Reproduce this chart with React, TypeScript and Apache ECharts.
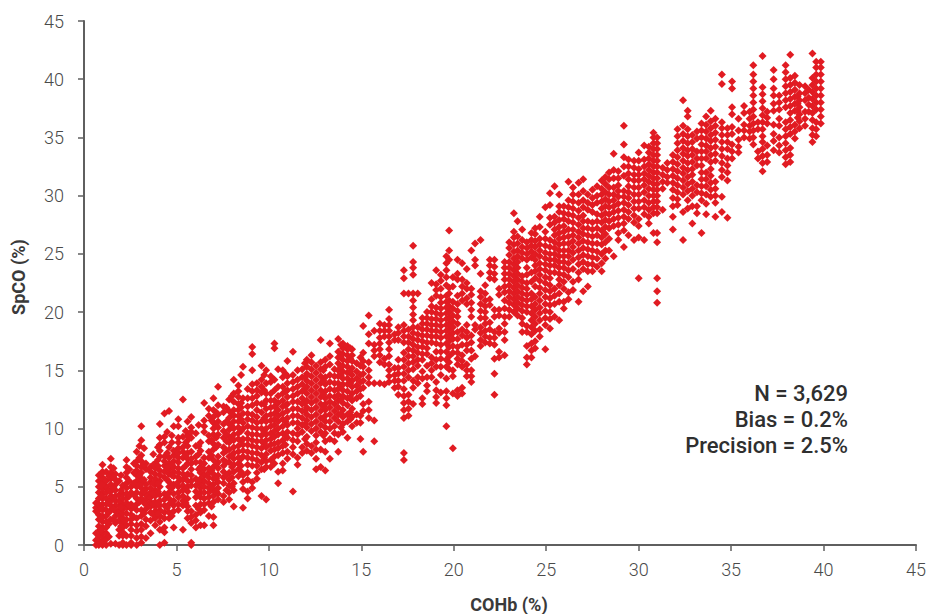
import React, { useEffect, useRef } from "react";
import * as echarts from "echarts";

const xTicks = [0, 5, 10, 15, 20, 25, 30, 35, 40, 45];
const annotation = ["N = 3,629", "Bias = 0.2%", "Precision = 2.5%"];

// Each row: x, then the y values read at that x.
const lowColumns: number[][] = [
  [0.65, 0, 0.4, 1, 2.9, 3.2, 3.6],
  [0.8, 0, 0.4, 0.8, 1.2, 1.6, 2.2, 2.6, 3, 3.5, 4, 4.5, 5, 5.5, 6],
  [1, 0, 0.3, 0.7, 1.1, 1.5, 2, 2.5, 3, 3.5, 4, 4.4, 4.8, 5.3, 5.8, 6.3, 6.9],
  [1.2, 0, 0.5, 1, 1.5, 2, 2.5, 3, 3.5, 4, 4.5, 5, 5.5, 6.3],
  [1.45, 0.1, 2.2, 3, 3.4, 3.8, 4.2, 4.6, 5.2, 5.7, 6.2, 6.7, 7.4],
  [1.7, 0.1, 1.9, 2.5, 2.9, 3.4, 3.8, 4.2, 4.7, 5.2, 5.6, 6.1],
  [1.9, 0, 0.8, 1.3, 2.1, 2.6, 3, 3.4, 3.8, 4.3, 5.5],
  [2.1, 0, 0.2, 0.8, 1.1, 1.5, 1.9, 2.3, 2.7, 3.1, 3.5, 4, 4.4, 5.1],
  [2.3, 0, 0.8, 1.7, 2.2, 2.7, 3.2, 3.6, 4, 4.4, 4.9, 5.3, 5.8, 6.2, 6.7, 7.3],
  [2.55, 0, 0.2, 0.8, 1.3, 1.8, 2.2, 2.6, 3.1, 3.5, 4.5, 5],
  [2.85, 0, 0.6, 1.2, 1.7, 2.3, 3, 3.5, 4, 4.5, 5, 5.5, 6, 6.4, 6.8, 7.2, 8],
  [3.1, 0.2, 0.7, 1.3, 1.8, 2.5, 3, 4, 4.4, 4.9, 5.3, 5.7, 6.2, 6.7, 7.2, 7.7, 9, 10.2],
  [3.35, 0.6, 1.6, 2.2, 3.1, 3.5, 3.9, 4.3, 4.8, 5.2, 6.5, 7],
  [3.6, 1, 2.1, 2.8, 3.3, 3.7, 4.1, 4.5, 4.9, 5.4, 5.8, 6.3, 6.7],
  [3.85, 1.7, 2.3, 2.9, 3.3, 3.7, 4.2, 4.7, 5.2, 5.7, 6.1, 6.6, 7],
  [4.1, 0, 1.3, 2, 2.5, 3, 3.4, 3.8, 4.3, 5, 5.5, 6, 6.4, 7.6, 8.1, 8.6, 9.2, 10.4],
  [4.35, 0.2, 1.1, 1.5, 2.3, 2.8, 3.4, 3.9, 4.4, 5.8, 6.3, 6.8, 7.2, 7.6, 8.8, 9.3, 11.3],
  [4.6, 2.3, 2.8, 3.5, 4, 4.5, 5, 5.4, 6.1, 6.5, 7, 7.5, 8.4, 11.5],
  [4.85, 1.5, 2.9, 3.4, 3.8, 4.4, 5.2, 5.9, 6.3, 6.7, 7.2, 7.7, 8.1, 10.2],
  [5.1, 3, 3.5, 4.1, 4.5, 5, 5.4, 5.8, 6.2, 6.6, 7.1, 7.5, 7.9, 8.3, 8.8, 9.2, 10.8, 10.2],
  [5.35, 1.3, 3.4, 3.8, 4.2, 4.7, 5.1, 5.6, 6.1, 6.6, 7.5, 8, 8.4, 9.3, 12.5],
  [5.6, 2.3, 2.9, 3.3, 4, 4.6, 5, 5.5, 6.1, 7, 7.4, 7.9, 8.5, 9, 9.4, 10.6],
  [5.8, 0, 0.2, 1.9, 2.4, 2.9, 5.1, 5.5, 6, 6.5, 7, 7.4, 8, 9.2, 9.7, 10.1, 11],
  [6.05, 1.5, 2.1, 2.6, 3.4, 4.1, 4.6, 5.1, 5.7, 7.1, 7.6, 8.5, 9.6],
  [6.3, 1.7, 2.8, 3.5, 4.1, 4.5, 4.9, 5.3, 5.7, 6.2, 6.7, 7.1, 8.1, 8.8],
  [6.5, 1.7, 3, 3.5, 4, 4.5, 5, 5.5, 6, 6.5, 7, 7.5, 9.7, 10.2, 10.7, 12.2],
  [6.75, 2.5, 3.6, 4.1, 4.5, 4.9, 5.3, 5.8, 6.2, 6.6, 7.5, 8, 8.9, 9.4, 11.1, 11.7],
  [7, 1.7, 2.4, 3.7, 4.2, 4.7, 5.2, 5.7, 6.1, 6.7, 7.3, 8.2, 8.7, 9.5, 10, 10.5, 11, 11.6, 12.6],
  [7.25, 3.9, 4.4, 4.9, 5.4, 6, 6.6, 7.1, 7.6, 8.6, 9.5, 10.1, 10.6, 11.2, 12, 13.6],
  [7.55, 3.7, 4.2, 5.3, 5.8, 6.3, 6.8, 7.3, 7.9, 8.4, 9.2, 9.8, 10.4, 11.4, 11.9],
  [7.85, 3.9, 4.5, 5.1, 5.6, 6.2, 7.1, 7.6, 8.2, 8.8, 9.3, 9.9, 10.4, 10.9, 11.5, 12.5],
  [8.1, 3.3, 4.7, 5.3, 6.3, 6.9, 7.4, 7.9, 8.4, 9, 9.5, 10, 10.6, 11.1, 11.6, 12.3, 13, 14.2],
  [8.35, 5.9, 6.5, 7, 7.5, 8, 8.5, 9.1, 9.6, 10.1, 10.6, 11.1, 11.6, 12.1, 12.7, 13.2, 13.7],
  [8.6, 3.2, 4.8, 5.4, 6, 7.6, 8.1, 8.6, 9.1, 10, 10.5, 11.3, 12.6, 15.3],
  [8.85, 4, 4.6, 5.6, 6.2, 6.9, 7.5, 8, 8.6, 9.1, 9.6, 10.2, 10.8, 11.3, 11.9, 12.6, 13.4],
  [9.1, 4.9, 5.4, 6.8, 7.4, 7.9, 8.5, 9, 9.5, 10.1, 10.7, 11.2, 12, 12.6, 13.2, 13.8, 15, 16.4, 17],
  [9.35, 5.7, 6.2, 6.8, 7.3, 7.9, 8.4, 8.9, 9.5, 10, 10.5, 11, 11.6, 12.2, 12.8, 13.3, 13.9],
  [9.6, 4.2, 6.5, 7.1, 7.7, 8.3, 8.9, 9.4, 10, 10.6, 11.4, 12.1, 13.1, 13.6, 14.2, 15.4],
  [9.85, 3.9, 6.7, 7.2, 7.8, 8.4, 9, 9.5, 10, 10.6, 11.1, 11.7, 12.4, 13, 13.9, 15],
  [10.1, 6.7, 7.3, 8.1, 8.6, 9.1, 9.6, 10.2, 10.7, 11.2, 11.8, 12.4, 13, 14, 14.5],
  [10.3, 7, 7.6, 8.2, 8.7, 9.3, 9.8, 10.3, 10.8, 11.3, 11.9, 12.4, 13.3, 14.2, 16.9, 17.3],
  [10.5, 5.3, 6.3, 7.7, 8.3, 8.8, 9.5, 10, 10.6, 11.1, 11.6, 12.2, 12.8, 13.6, 15.1],
  [10.75, 6.4, 7, 7.9, 8.5, 9, 9.6, 10.2, 10.8, 11.3, 11.9, 12.4, 13, 13.6, 14.4, 15],
  [11, 7.4, 8, 9.2, 9.7, 10.3, 10.9, 11.5, 12.1, 12.7, 13.3, 13.9, 14.5, 15.8],
  [11.3, 4.6, 7.8, 8.4, 9, 9.6, 10.5, 11.1, 11.7, 12.3, 12.8, 13.4, 14, 14.6, 16.6],
  [11.55, 6.9, 7.5, 8.9, 9.5, 10, 10.5, 11.1, 11.7, 12.3, 13, 13.6, 14.2, 15],
  [11.8, 7.9, 8.4, 9.7, 10.3, 10.9, 11.5, 12.1, 12.6, 13.2, 13.8, 14.4, 15.1],
  [12.05, 8.1, 8.7, 9.3, 10.1, 10.7, 11.2, 11.8, 12.4, 13, 13.6, 14.1, 14.7, 15.3, 15.9],
  [12.3, 7.9, 8.5, 9.8, 10.4, 11, 11.6, 12.2, 12.7, 13.3, 13.9, 14.5, 15.1, 15.7, 16.3],
  [12.55, 6.5, 7.4, 8.2, 8.8, 9.4, 10, 10.6, 11.2, 11.8, 12.4, 13, 13.6, 14.2, 14.8, 15.4],
  [12.8, 6.7, 8.2, 9.7, 10.3, 10.9, 11.5, 12.1, 12.7, 13.3, 13.9, 14.5, 15.1, 15.7, 17.6],
  [13.05, 6.4, 8, 8.9, 9.6, 10.1, 10.6, 11.1, 11.6, 12.1, 12.6, 13.2, 13.8, 14.4, 15.3, 15.9],
  [13.3, 7.4, 9.1, 10, 10.6, 11.2, 11.8, 12.3, 12.8, 13.4, 14, 14.6, 15.5, 16.2, 17.3],
  [13.55, 8.9, 9.6, 10.2, 10.9, 11.5, 12.1, 12.7, 13.3, 13.9, 14.5, 15.1],
  [13.75, 8, 9.5, 10.6, 11.2, 11.8, 12.4, 12.9, 13.4, 13.9, 14.5, 15, 15.6, 16.1, 16.6, 17.7],
  [14, 9.7, 10.4, 11, 11.6, 12.2, 12.8, 13.3, 13.8, 14.3, 14.9, 15.4, 15.9, 16.4, 16.9, 17.3],
  [14.25, 9.2, 10.6, 11.2, 12, 12.6, 13.2, 13.8, 14.3, 14.8, 15.3, 15.8, 16.3, 16.8, 17.1],
  [14.5, 10.2, 11, 11.7, 12.4, 13, 13.6, 14.1, 14.6, 15.2, 15.8, 16.3, 16.8],
  [14.75, 10.5, 11.2, 12.6, 13.2, 13.7, 14.3, 14.9, 15.6],
];

const lowInfill: number[][] = [
  [0.95, 1.3, 2.3, 3.2, 4.2, 5.1, 6.1],
  [1.35, 0.7, 1.8, 2.8, 3.7, 4.7, 5.9],
  [1.6, 2.2, 3.1, 4, 4.9, 5.8, 6.6],
  [2, 1.6, 3.2, 4.7, 6],
  [2.45, 3.4, 4.2, 5.5, 6.5],
  [2.7, 2.4, 3.3, 4.3, 5.3, 6.2, 7],
  [3, 3.7, 5.1, 6, 7.5, 8.5],
  [3.25, 2.7, 3.6, 4.6, 5.6, 6.9, 8.3],
  [3.75, 2.6, 3.5, 4.4, 5.3, 6.9, 7.8],
  [4, 2.7, 3.6, 4.6, 5.3, 6.8, 7.3, 8.4],
  [4.5, 3.2, 4.3, 5.6, 6.7, 7.9, 9.7],
  [4.75, 2.5, 3.7, 4.9, 6, 6.9, 8.8, 9.4],
  [5.5, 3.6, 4.8, 5.9, 6.8, 7.7, 8.8, 9.8],
  [6.2, 3.1, 4.3, 5.5, 6.5, 7.8, 8.5, 10.3],
  [6.9, 3.3, 5, 6.4, 7.7, 9, 10.7],
  [7.15, 4.6, 5.7, 6.9, 8.4, 9.2, 10.3, 11.4],
  [7.7, 4.7, 6, 7.1, 8.1, 8.9, 9.5, 10.6, 11.8],
  [8, 5, 5.8, 6.7, 7.7, 9.2, 10.2, 11.3, 12.8],
  [8.5, 6.3, 6.8, 7.4, 8.9, 9.8, 10.8, 11.8, 12.2, 14.6],
  [9.75, 6.5, 7.5, 8.7, 9.8, 10.9, 12.1, 13.3, 14.6],
  [10.9, 8.6, 9.4, 10.6, 12, 13.2, 14.7],
  [11.95, 9.1, 10.4, 11.5, 12.2, 13.4, 14.4, 15.6],
  [12.95, 9.4, 10.8, 11.9, 12.9, 14.1, 15],
  [13.9, 10.1, 11.3, 12.5, 13.6, 14.6, 15.3, 16.3, 17.2],
  [14.4, 10.8, 11.4, 12.7, 13.9, 14.9, 16, 16.9],
];

const midColumns: number[][] = [
  [14.95, 9.1, 10.5, 11.1, 12.8, 13.4, 14, 14.6, 15.4, 16.1],
  [15.1, 8, 11.5, 12.1, 13.5, 14.1, 14.7, 15.3, 15.8, 16.5, 18.8],
  [15.4, 10.9, 11.6, 12.3, 13.9, 14.4, 15, 15.7, 17.3, 18.1, 19.7],
  [15.7, 8.9, 10.7, 13.9, 16.2, 16.7, 17.2, 18.4],
  [16, 13.9, 15.7, 16.3, 16.8, 17.3, 17.8, 18.4, 19],
  [16.25, 13.8, 15.5, 16, 17.9, 18.4, 18.9],
  [16.5, 14, 14.5, 15, 15.5, 16.2, 16.8, 17.4, 17.9, 18.4, 18.9, 19.4, 20.2],
  [16.8, 13.5, 14.1, 14.6, 15.2, 17.6, 18.1],
  [17, 12.9, 13.6, 14.1, 14.7, 15.2, 15.9, 17.6, 18.2, 18.7],
  [17.3, 7.3, 7.9, 10.9, 11.6, 12.2, 12.8, 13.4, 14.1, 14.7, 15.3, 15.9, 16.5, 17.4, 17.9, 18.4, 18.9, 21.6, 22.9, 23.6],
  [17.55, 11.1, 11.7, 12.3, 12.9, 14.4, 15, 15.6, 16.2, 16.8, 17.4, 17.9, 18.5, 21.6],
  [17.8, 12.1, 13.5, 14.1, 15.1, 15.7, 16.2, 16.7, 17.2, 17.7, 18.2, 18.7, 19.3, 19.8, 20.4, 21, 21.6, 23.2, 23.8, 24.3, 25.7],
  [18.05, 13.9, 14.4, 15.4, 15.9, 16.5, 17, 17.6, 18.1, 18.7, 21.6],
  [18.3, 12.1, 12.6, 14.3, 14.9, 15.9, 16.4, 17, 17.5, 18, 18.5, 19, 19.5],
  [18.55, 13.2, 13.7, 14.4, 15.4, 16.4, 16.9, 17.4, 18, 18.5, 19, 19.5, 20],
  [18.8, 14.4, 15, 15.6, 16.1, 17.4, 17.9, 18.4, 18.9, 19.4, 20, 20.5, 21.1, 22.5],
  [19.05, 12.2, 12.7, 13.3, 14, 15.3, 15.9, 16.6, 17.3, 17.9, 18.4, 18.9, 19.4, 19.9, 20.4, 21.4, 21.9, 22.4, 23.6],
  [19.3, 13.1, 14.6, 15.3, 16, 16.6, 17.2, 17.8, 18.3, 18.8, 19.3, 19.8, 20.3, 20.8, 21.3, 22, 22.7, 23.2],
  [19.6, 10.2, 12, 12.6, 13.2, 14.3, 15.3, 15.9, 16.6, 17.3, 17.9, 18.4, 18.9, 19.4, 19.9, 20.4, 20.9, 21.4, 22.3, 23, 23.6, 24.2, 24.8],
  [19.75, 15.1, 15.7, 16.2, 17, 17.5, 18, 18.5, 19, 19.5, 20, 20.5, 21, 21.6, 22.1, 24.5, 25.3, 27],
  [19.95, 8.3, 13, 14.5, 15, 16.5, 17.1, 17.7, 18.2, 18.7, 19.2, 19.7, 20.3, 20.9, 22.2, 23],
  [20.2, 12.8, 13.3, 15.5, 16, 16.5, 17, 17.7, 18.3, 19, 19.6, 20.1, 20.7, 21.4, 22.8, 23.3, 24.5],
  [20.45, 13, 13.5, 15.3, 15.8, 16.3, 17.2, 18, 18.5, 21, 21.6, 22.2, 22.8, 24.2],
  [20.7, 14.5, 15, 15.5, 16.7, 17.2, 17.8, 18.3, 18.9, 20.7, 21.2, 22, 22.5, 23.7],
  [20.95, 14, 14.5, 15, 16, 16.7, 17.4, 18, 19.6, 20.2, 20.8, 21.5, 22, 25.3],
  [21.15, 16.2, 18.5, 18.9, 24, 24.5, 25.9],
  [21.45, 17.1, 17.6, 18.2, 18.7, 19.5, 20.1, 20.7, 21.3, 21.8, 23.3, 26.2],
  [21.7, 17.4, 17.9, 18.4, 19, 19.5, 20, 20.5, 21, 21.6, 22.3],
  [21.95, 17.3, 17.8, 18.5, 19.1, 20.6, 21.1, 22.9, 23.4, 24, 24.5],
  [22.2, 12.9, 14.7, 16, 17.2, 17.8, 18.3, 19.6, 20.2, 22.8, 23.3, 23.9, 24.5],
  [22.45, 16.1, 16.6, 18.2, 18.6, 19.7, 20.2, 21.5, 22],
  [22.75, 16.3, 17.6, 18.3, 19, 19.6, 20.3, 21, 21.7, 22.2, 22.8, 23.3, 23.8, 24.3],
  [23, 19.6, 20.2, 20.8, 21.3, 21.8, 22.3, 22.8, 23.3, 23.8, 24.3, 24.9, 25.5, 26],
  [23.25, 20, 20.6, 21.1, 21.6, 22.1, 22.6, 23.1, 23.6, 24.1, 24.6, 25.2, 25.8, 26.4, 26.9, 28.5],
  [23.45, 19.7, 20.3, 20.8, 21.3, 21.8, 22.3, 22.8, 23.3, 23.8, 24.3, 24.8, 25.3, 25.9, 26.5, 27.8],
  [23.7, 18.3, 19, 19.5, 20.1, 20.6, 21.1, 21.6, 22.1, 22.6, 23.1, 24.6, 25.1, 25.6, 26.2, 27.1],
  [23.95, 15.5, 16.1, 17.1, 18.3, 18.8, 20, 20.5, 21, 21.5, 22, 22.5, 23.2, 23.8, 24.5, 25, 25.5, 26],
  [24.2, 16.1, 16.7, 17.3, 18.1, 18.7, 19.3, 19.9, 20.5, 21.1, 21.6, 22.6, 23.4, 24.7, 25.2, 25.7, 26.2, 26.8],
  [24.4, 16.9, 17.5, 18.4, 19, 19.6, 20.2, 20.7, 21.3, 22.2, 22.9, 23.5, 24, 24.5, 25, 25.6, 26.1, 26.7, 27.2],
  [24.65, 17.9, 18.5, 19.3, 19.9, 20.4, 21, 21.6, 22.1, 22.7, 23.2, 23.7, 24.2, 24.8, 25.3, 25.8, 26.3, 27.3, 28.2],
  [24.95, 16.8, 18.9, 19.5, 20.1, 20.7, 21.3, 21.9, 22.5, 23, 23.6, 24.1, 24.6, 25.1, 25.7, 26.3, 26.9, 29],
  [25.2, 18.6, 19.4, 20, 20.6, 21.2, 21.8, 22.3, 22.9, 23.4, 24, 24.5, 25, 25.6, 26.2, 27.5, 28.1, 29.2, 30.2],
  [25.45, 19.6, 20.7, 21.4, 22, 23.4, 24, 24.5, 25, 25.5, 26, 26.6, 27.1, 27.7, 28.2, 30.8],
  [25.7, 19.3, 20.9, 21.6, 22.3, 22.8, 23.3, 23.8, 24.3, 24.8, 25.3, 25.8, 26.3, 26.8, 27.3, 27.9, 28.6, 29.1, 30.1],
  [25.95, 20.3, 20.9, 22, 22.6, 23.2, 23.8, 24.3, 24.8, 25.3, 25.9, 26.4, 26.9, 27.4, 28, 28.5, 29.1],
  [26.2, 21.1, 21.7, 23, 23.6, 24.2, 24.8, 25.3, 25.9, 26.5, 27.1, 27.8, 28.4, 29, 29.6, 31.2],
  [26.45, 21.9, 22.6, 23.7, 24.5, 25.1, 25.6, 26.1, 26.6, 27.1, 27.7, 28.3, 28.9, 29.5, 30.1, 30.7],
  [26.75, 20.9, 22.8, 23.4, 24.1, 24.7, 25.3, 25.9, 26.4, 26.9, 27.5, 28.1, 28.7, 29.4, 30.1, 31.1],
  [27, 21.8, 23.7, 24.3, 24.9, 25.5, 26.1, 26.7, 27.2, 27.8, 28.3, 29, 29.6, 30.4, 31.4],
  [27.25, 22.2, 23.5, 24.1, 24.8, 25.4, 26, 26.6, 27.2, 27.8, 28.8, 29.4, 30.1],
  [27.5, 23.5, 24.1, 24.7, 25.3, 25.9, 26.5, 27.1, 27.7, 28.6, 29.2, 29.8, 30.5],
  [27.75, 23.9, 24.6, 25.2, 25.9, 26.6, 27.2, 27.8, 28.4, 29.4, 30, 30.8],
];

const highColumns: number[][] = [
  [28, 23.5, 24.2, 25, 25.8, 26.4, 27, 27.7, 28.3, 28.9, 29.5, 30.1, 30.6, 31.3],
  [28.2, 24.6, 25.3, 26, 26.7, 27.3, 27.9, 28.5, 29.1, 29.7, 30.3, 31, 31.6],
  [28.4, 25.3, 26.3, 27.2, 27.8, 28.4, 29, 29.5, 30.1, 30.7, 31.4, 32],
  [28.65, 24.8, 27.4, 28, 28.6, 29.1, 29.6, 30.1, 30.7, 31.5, 32.2, 33.6],
  [28.9, 26.2, 26.8, 27.5, 28.1, 28.7, 29.3, 29.9, 30.4, 30.9, 31.5, 32.1],
  [29.2, 25.6, 27, 27.6, 28.2, 28.8, 29.4, 29.9, 30.4, 31.7, 32.5, 33.3, 34.4, 36],
  [29.45, 26.6, 28, 28.6, 29.2, 29.8, 30.3, 30.8, 31.4, 31.9, 32.5, 33.1],
  [29.75, 26.2, 27.7, 28.3, 28.9, 29.5, 30.1, 30.7, 31.3, 31.8, 32.4, 33],
  [30, 22.9, 26.4, 27.4, 28, 28.9, 29.5, 30.1, 30.7, 31.3, 31.8, 32.3, 33, 33.7],
  [30.3, 26.2, 28.4, 29, 29.6, 30.3, 30.9, 31.4, 31.9, 32.5, 33.1, 34.3],
  [30.55, 27.6, 28.2, 28.8, 29.4, 30, 30.6, 31.2, 31.7, 32.2, 32.7, 33.2, 33.7, 34.2],
  [30.8, 26.8, 28.5, 29, 29.5, 30, 30.5, 31, 31.5, 32, 32.5, 33, 33.5, 34, 34.5, 35, 35.4],
  [31, 20.8, 21.8, 22.9, 26, 26.8, 28.5, 29, 29.5, 30, 30.5, 31, 31.5, 32, 32.5, 33, 33.5, 34, 34.5, 35],
  [31.3, 28.8, 30.6, 31.2, 31.8, 32.4],
  [31.55, 31.1, 31.6, 32.2, 32.8],
  [31.85, 27.1, 28.2, 29.1, 29.8, 30.5, 31.1, 31.7, 32.3, 32.9, 33.5],
  [32.1, 29.2, 29.7, 30.3, 30.9, 31.5, 32.1, 32.7, 33.3, 33.9, 34.5, 35.1, 35.7],
  [32.4, 26.2, 28.6, 30.1, 30.7, 31.3, 31.9, 32.4, 33, 33.6, 34.1, 34.7, 35.3, 36, 38.2],
  [32.65, 28.9, 29.6, 30.4, 31, 31.6, 32.2, 32.8, 33.4, 33.9, 34.5, 35.1, 35.7, 37.3, 36.8],
  [32.9, 27.6, 29.1, 30, 30.6, 31.2, 31.8, 32.3, 32.9, 33.5, 34, 34.6, 35.2],
  [33.15, 28.5, 29.1, 30.3, 30.9, 32.6, 33.2, 33.8, 34.9, 35.5],
  [33.4, 26.8, 29.6, 30.2, 30.8, 31.4, 32, 32.6, 33.2, 33.8, 34.4, 35, 35.6, 36.2],
  [33.65, 28.4, 29.3, 30.1, 30.8, 31.4, 32, 33.2, 33.8, 34.3, 34.9, 35.5, 36.1, 36.8],
  [33.9, 29.9, 30.5, 31.1, 31.7, 32.3, 32.9, 33.5, 34.1, 34.7, 35.2, 35.8, 36.4, 37.3],
  [34.15, 28.2, 29.4, 30, 30.6, 31.2, 33, 33.6, 34.2, 34.8, 35.4, 36, 36.6],
  [34.5, 28.6, 29.9, 31.6, 32.2, 32.8, 33.4, 34, 34.6, 35.2, 35.8, 36.3, 39.6, 40.4],
  [34.8, 28.1, 31.3, 32, 32.6, 33.2, 34, 34.6, 35.2, 35.8],
  [35.05, 33.2, 33.8, 34.4, 35.3, 35.9, 37, 37.6, 39.2, 39.8],
  [35.4, 33.7, 34.2, 34.8, 35.6, 36.6],
  [35.7, 35, 35.6, 36.1, 37.1, 37.7],
  [36, 34.9, 35.5, 36, 36.6, 37.2],
  [36.2, 34.4, 35, 35.6, 36.2, 36.8, 37.4, 38, 38.6, 39.2, 39.8, 40.4, 41.2],
  [36.45, 33.2, 33.8, 35.7, 36.3],
  [36.7, 32.1, 32.8, 33.4, 34, 34.6, 35.1, 35.7, 36.3, 36.9, 37.5, 38.1, 38.7, 39.3, 42],
  [36.95, 32.9, 33.5, 34.3, 36.2, 36.7, 37.2],
  [37.3, 33.9, 34.7, 35.3, 36.1, 37.3, 37.9, 38.6, 39.2, 40, 40.8],
  [37.6, 33.7, 34.3, 35, 36, 36.6, 37.4, 38, 38.6],
  [37.95, 32.7, 33.3, 33.9, 34.5, 35.1, 35.7, 36.3, 37.6, 38.2, 38.8, 39.4, 40, 40.6, 41.2],
  [38.2, 32.9, 33.5, 34.1, 35.3, 35.9, 36.5, 37.1, 37.7, 38.3, 38.9, 39.5, 40.1, 42.1],
  [38.45, 34.9, 35.5, 36.1, 37.3, 37.9, 38.5, 39.1, 39.7, 40.3],
  [38.6, 36.7, 37.3, 37.9, 38.5],
  [38.7, 35.8, 36.4, 37, 37.6, 38.2, 38.8, 39.5],
  [39, 36, 36.6, 37.2, 38.2, 38.8, 39.4],
  [39.2, 37.2, 37.8, 38.4, 39.1],
  [39.4, 34.6, 35.2, 35.8, 36.5, 37.1, 37.7, 38.3, 38.9, 39.5, 40.1, 42.2],
  [39.6, 35.1, 35.7, 36.3, 37.4, 38, 38.6, 39.2, 39.8, 40.4, 41, 41.5],
  [39.85, 36.2, 36.8, 37.4, 38, 38.6, 39.2, 39.8, 40.4, 41, 41.5],
];

const toPoints = (rows: number[][]) =>
  rows.flatMap(([x, ...ys]) => ys.map((y) => [x, y]));

const scatterData = [
  ...toPoints(lowColumns),
  ...toPoints(lowInfill),
  ...toPoints(midColumns),
  ...toPoints(highColumns),
];

const AXIS = "#5f5f5f";
const TEXT = "#4a4a4a";
const RED = "#e11b22";

export default function App() {
  const ref = useRef<HTMLDivElement>(null);
  useEffect(() => {
    const chart = echarts.init(ref.current!, undefined, { renderer: "svg" });
    const axisBase = {
      type: "value" as const,
      min: 0,
      max: 45,
      interval: 5,
      splitLine: { show: false },
      axisLine: { show: true, onZero: false, lineStyle: { color: AXIS, width: 2 } },
      axisTick: { show: true, inside: false, length: 6, lineStyle: { color: AXIS, width: 1.5 } },
    };
    chart.setOption({
      animation: false,
      backgroundColor: "#ffffff",
      textStyle: { fontFamily: "Roboto" },
      grid: { left: 84, top: 21, width: 832, height: 524, containLabel: false, outerBoundsMode: "none" },
      xAxis: {
        ...axisBase,
        axisLabel: {
          color: TEXT,
          fontSize: 18,
          fontWeight: 300,
          fontFamily: "Roboto",
          margin: 15,
          customValues: xTicks,
          showMaxLabel: true,
        },
        name: "COHb (%)",
        nameLocation: "middle",
        nameGap: 50,
        nameTextStyle: {
          color: "#3a3a3a",
          fontSize: 18,
          fontWeight: 700,
          fontFamily: "Roboto",
          padding: [0, 0, 0, 18],
        },
      },
      yAxis: {
        ...axisBase,
        axisLabel: {
          color: TEXT,
          fontSize: 18,
          fontWeight: 300,
          fontFamily: "Roboto",
          margin: 20,
        },
        name: "SpCO (%)",
        nameLocation: "middle",
        nameGap: 57,
        nameRotate: 90,
        nameTextStyle: {
          color: "#3a3a3a",
          fontSize: 18,
          fontWeight: 700,
          fontFamily: "Roboto",
          padding: [0, 0, 0, 12],
        },
      },
      series: [
        {
          type: "scatter",
          data: scatterData,
          symbol: "diamond",
          symbolSize: 8,
          clip: false,
          itemStyle: { color: RED, opacity: 1 },
        },
      ],
      graphic: annotation.map((line, i) => ({
        type: "text",
        right: 78,
        top: 382 + i * 26,
        style: {
          text: line,
          fill: "#2f2f2f",
          font: "500 22px Roboto",
          textAlign: "right",
        },
      })),
    });
    return () => chart.dispose();
  }, []);
  return <div ref={ref} style={{ position: "fixed", left: 0, top: 0, width: 926, height: 614 }} />;
}
